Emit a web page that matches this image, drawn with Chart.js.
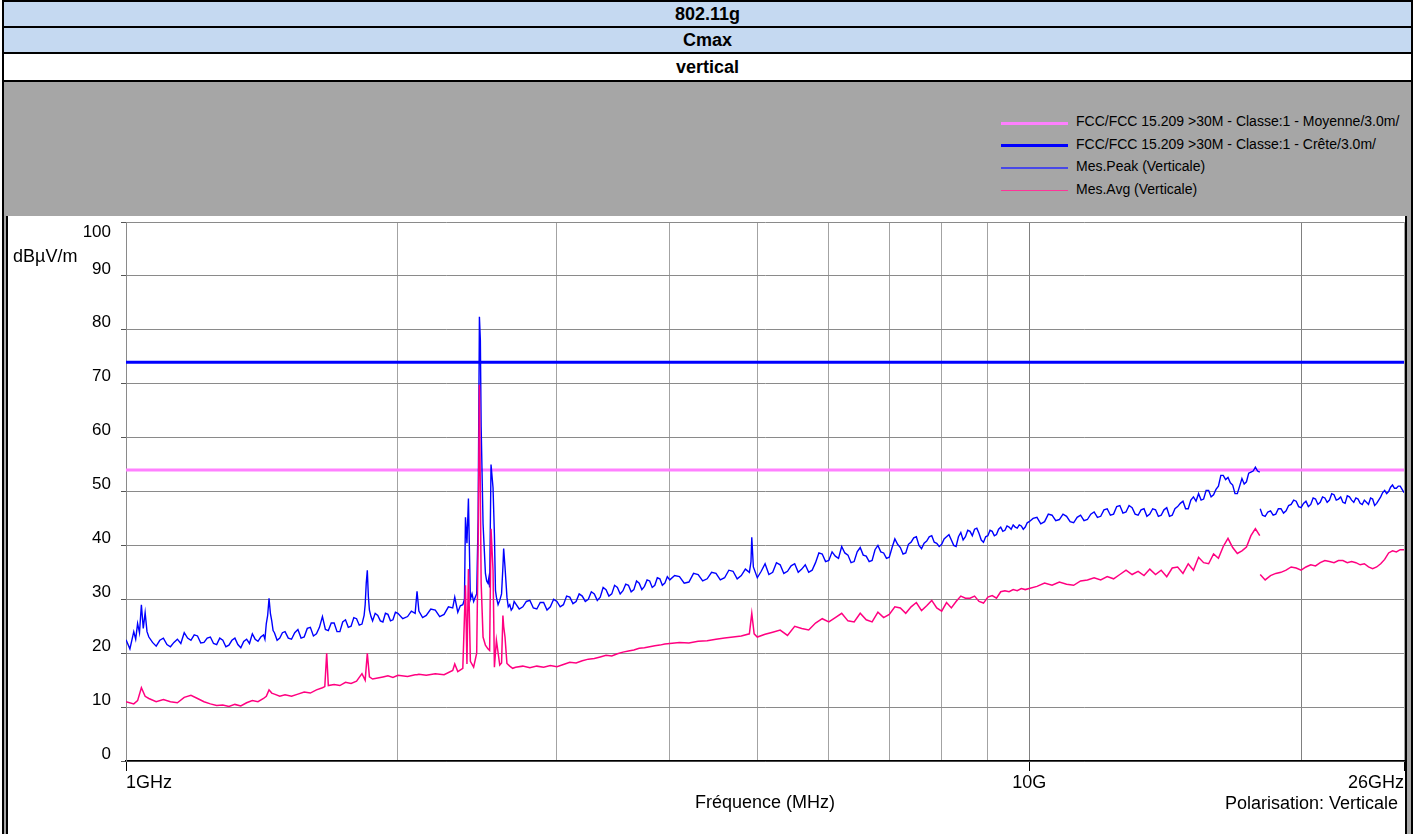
<!DOCTYPE html>
<html>
<head>
<meta charset="utf-8">
<title>802.11g - Cmax - vertical</title>
<script src="https://cdn.jsdelivr.net/npm/chart.js@4.4.0/dist/chart.umd.min.js"></script>
<style>
  body { margin: 0; background: #fff; font-family: "Liberation Sans", Arial, sans-serif; overflow: hidden; }
  #frame { position: absolute; left: 2px; top: 0; width: 1407px; height: 850px; border: 2px solid #000; background: #a6a6a6; }
  .hrow { position: absolute; left: 0; width: 1407px; text-align: center; font-weight: bold; font-size: 18px; border-bottom: 2px solid #000; }
  #row1 { top: 0; height: 24px; line-height: 24px; background: #c5d9f1; }
  #row2 { top: 26px; height: 24px; line-height: 24px; background: #c5d9f1; }
  #row3 { top: 52px; height: 26px; line-height: 26px; background: #fff; }
  #panel { position: absolute; left: 6px; top: 216px; width: 1397px; height: 640px; background: #fff; border-left: 2px solid #000; border-right: 2px solid #000; }
  #legend { position: absolute; left: 1001px; top: 110px; }
  .lg-row { position: absolute; left: 0; height: 22px; white-space: nowrap; }
  .lg-line { position: absolute; left: 0; width: 67px; }
  .lg-text { position: absolute; left: 75px; top: 0; font-size: 14px; line-height: 22px; color: #000; }
  #chartBox { position: absolute; left: 8px; top: 180px; width: 1397px; height: 654px; }
</style>
</head>
<body>
<div id="frame">
  <div class="hrow" id="row1">802.11g</div>
  <div class="hrow" id="row2">Cmax</div>
  <div class="hrow" id="row3">vertical</div>
</div>
<div id="panel"></div>
<div id="legend"></div>
<div id="chartBox"><canvas id="emc"></canvas></div>

<script>
// Limites FCC 15.209 (dBuV/m)
const limitFreq = [1, 26];
const limitAvg = [54, 54];
const limitPeak = [74, 74];

// Axes
const yTicks = [0, 10, 20, 30, 40, 50, 60, 70, 80, 90, 100];
const xTickValues = [1, 2, 3, 4, 5, 6, 7, 8, 9, 10, 20, 26];
const xTickText = ['1GHz', '', '', '', '', '', '', '', '', '10G', '', '26GHz'];

// Mes.Peak (Verticale) : frequences (GHz)
const peakFreq = [
  1.00, 1.01, 1.02, 1.025, 1.03, 1.035, 1.04, 1.045, 1.05, 1.055,
  1.06, 1.07, 1.08, 1.09, 1.10, 1.11, 1.12, 1.13, 1.14, 1.15,
  1.16, 1.17, 1.18, 1.19, 1.20, 1.21, 1.22, 1.23, 1.24, 1.25,
  1.26, 1.27, 1.28, 1.29, 1.30, 1.31, 1.32, 1.33, 1.34, 1.35,
  1.36, 1.37, 1.38, 1.39, 1.40, 1.41, 1.42, 1.425, 1.43, 1.435,
  1.44, 1.445, 1.45, 1.455, 1.46, 1.47, 1.48, 1.49, 1.50,
  1.5125, 1.525, 1.5375, 1.55, 1.5625, 1.575, 1.5875, 1.60, 1.6125, 1.625,
  1.6375, 1.65, 1.6625, 1.675, 1.6875, 1.70, 1.7125, 1.725, 1.7375, 1.75,
  1.7625, 1.775, 1.7875, 1.80, 1.8125, 1.825, 1.835, 1.84, 1.845, 1.85,
  1.855, 1.86, 1.8675, 1.875, 1.8875, 1.90, 1.9125, 1.925, 1.9375, 1.95,
  1.9625, 1.975, 1.9875, 2.00,
  2.025, 2.05, 2.07, 2.09, 2.10, 2.11, 2.13, 2.15, 2.175, 2.20,
  2.225, 2.25, 2.275, 2.30, 2.312, 2.33, 2.345, 2.36, 2.37, 2.376,
  2.385, 2.394, 2.406, 2.416, 2.426, 2.436, 2.445, 2.454, 2.462, 2.468,
  2.473, 2.485, 2.50, 2.508, 2.516, 2.522, 2.527, 2.536, 2.549, 2.558,
  2.565, 2.571, 2.582, 2.593, 2.605, 2.614, 2.619, 2.628, 2.641, 2.65,
  2.66, 2.67, 2.68, 2.69, 2.70,
  2.725, 2.75, 2.775, 2.80, 2.825, 2.85, 2.875, 2.90, 2.925, 2.95,
  2.975, 3.00, 3.025, 3.05, 3.075, 3.10, 3.125, 3.15, 3.175, 3.20,
  3.225, 3.25, 3.275, 3.30, 3.325, 3.35, 3.375, 3.40, 3.425, 3.45,
  3.475, 3.50, 3.525, 3.55, 3.575, 3.60, 3.625, 3.65, 3.675, 3.70,
  3.725, 3.75, 3.775, 3.80, 3.825, 3.85, 3.875, 3.90, 3.925, 3.95,
  3.975, 4.00,
  4.05, 4.10, 4.15, 4.20, 4.25, 4.30, 4.35, 4.40, 4.45, 4.50,
  4.55, 4.60, 4.65, 4.70, 4.75, 4.80, 4.85, 4.90, 4.92, 4.93,
  4.95, 5.00, 5.05, 5.10, 5.15, 5.20, 5.25, 5.30, 5.35, 5.40,
  5.45, 5.50, 5.55, 5.60, 5.65, 5.70, 5.75, 5.80, 5.85, 5.90,
  5.95, 6.00, 6.05, 6.10, 6.15, 6.20, 6.25, 6.30, 6.35, 6.40,
  6.45, 6.50, 6.55, 6.60, 6.65, 6.70, 6.75, 6.80, 6.85, 6.90,
  6.95, 7.00, 7.05, 7.10, 7.15, 7.20, 7.25, 7.30, 7.35, 7.40,
  7.45, 7.50, 7.55, 7.60, 7.65, 7.70, 7.75, 7.80, 7.85, 7.90,
  7.95, 8.00, 8.05, 8.10, 8.15, 8.20, 8.25, 8.30, 8.35, 8.40,
  8.45, 8.50, 8.55, 8.60, 8.65, 8.70, 8.75, 8.80, 8.85, 8.90,
  8.95, 9.00, 9.05, 9.10, 9.15, 9.20, 9.25, 9.30, 9.35, 9.40,
  9.45, 9.50, 9.55, 9.60, 9.65, 9.70, 9.75, 9.80, 9.85, 9.90,
  9.95, 10.00,
  10.1, 10.2, 10.3, 10.4, 10.5, 10.6, 10.7, 10.8, 10.9, 11.0,
  11.1, 11.2, 11.3, 11.4, 11.5, 11.6, 11.7, 11.8, 11.9, 12.0,
  12.1, 12.2, 12.3, 12.4, 12.5, 12.6, 12.7, 12.8, 12.9, 13.0,
  13.1, 13.2, 13.3, 13.4, 13.5, 13.6, 13.7, 13.8, 13.9, 14.0,
  14.1, 14.2, 14.3, 14.4, 14.5, 14.6, 14.7, 14.8, 14.9, 15.0,
  15.1, 15.2, 15.3, 15.4, 15.5, 15.6, 15.7, 15.8, 15.9, 16.0,
  16.1, 16.2, 16.3, 16.4, 16.5, 16.6, 16.7, 16.8, 16.9, 17.0,
  17.1, 17.2, 17.3, 17.4, 17.5, 17.6, 17.7, 17.8, 17.9, 18.0,
  18.01,
  18.02, 18.125, 18.25, 18.375, 18.5, 18.625, 18.75, 18.875, 19.0, 19.125,
  19.25, 19.375, 19.5, 19.625, 19.75, 19.875, 20.0, 20.125, 20.25, 20.375,
  20.5, 20.625, 20.75, 20.875, 21.0, 21.125, 21.25, 21.375, 21.5, 21.625,
  21.75, 21.875, 22.0, 22.125, 22.25, 22.375, 22.5, 22.625, 22.75, 22.875,
  23.0, 23.125, 23.25, 23.375, 23.5, 23.625, 23.75, 23.875, 24.0, 24.125,
  24.25, 24.375, 24.5, 24.625, 24.75, 24.875, 25.0, 25.125, 25.25, 25.375,
  25.5, 25.625, 25.75, 25.875, 26.0
];

// Mes.Peak (Verticale) : niveaux (dBuV/m)
const peakVals = [
  22.5, 20.8, 24.0, 22.6, 25.5, 23.8, 29.0, 24.6, 27.5, 24.0,
  23.0, 22.0, 21.3, 22.4, 22.8, 21.6, 21.2, 22.0, 22.6, 21.8,
  23.8, 22.8, 22.4, 23.4, 23.2, 21.9, 22.0, 22.8, 23.0, 21.8,
  21.6, 22.8, 22.4, 21.2, 21.5, 22.4, 22.8, 21.6, 21.0, 22.2,
  22.6, 21.8, 23.6, 22.6, 22.2, 23.0, 23.4, 22.6, 25.5, 27.0,
  30.2, 27.4, 26.0, 24.2, 23.8, 22.4, 22.8, 23.8, 24.0,
  22.8, 22.6, 23.8, 24.4, 22.8, 23.0, 24.6, 24.8, 23.2, 23.6,
  24.8, 26.8, 24.4, 24.2, 25.6, 25.6, 24.0, 24.0, 25.8, 26.2,
  24.8, 25.0, 26.6, 26.4, 25.2, 25.4, 27.0, 29.0, 33.0, 35.4,
  30.5, 28.0, 26.8, 26.0, 27.4, 27.0, 26.0, 25.8, 27.4, 27.2,
  26.0, 26.2, 27.6, 27.4,
  26.4, 26.8, 27.8, 27.4, 31.5, 27.8, 26.6, 27.0, 28.2, 28.0,
  26.8, 27.2, 28.6, 28.4, 30.4, 27.6, 28.8, 29.0, 30.0, 45.2,
  40.4, 48.7, 30.0, 31.0, 29.6, 30.4, 31.0, 45.0, 82.4, 78.0,
  62.0, 44.0, 34.8, 33.4, 33.0, 34.0, 32.2, 55.0, 50.7, 42.0,
  31.6, 30.4, 29.0, 29.8, 31.0, 36.0, 39.4, 36.0, 30.4, 28.6,
  29.0, 28.0, 28.4, 29.6, 29.2,
  28.2, 28.6, 29.6, 29.8, 28.4, 28.2, 29.4, 29.4, 28.0, 28.6,
  30.0, 29.6, 28.6, 29.0, 30.6, 30.4, 29.2, 29.6, 31.0, 30.6,
  29.6, 30.0, 31.4, 31.0, 29.8, 30.4, 32.2, 31.8, 30.6, 31.0,
  32.6, 32.2, 31.0, 31.6, 32.8, 32.6, 31.4, 31.8, 33.4, 33.0,
  31.8, 32.4, 33.6, 33.4, 32.2, 32.6, 34.0, 33.8, 32.6, 33.0,
  34.2, 33.6,
  34.4, 34.2, 33.0, 33.2, 34.8, 34.6, 33.4, 33.8, 35.0, 34.8,
  33.6, 34.0, 35.4, 35.2, 33.8, 34.4, 35.6, 35.0, 37.0, 41.5,
  36.0, 34.0, 35.2, 36.6, 34.6, 35.0, 36.8, 36.4, 34.8, 35.2,
  36.2, 36.6, 35.0, 35.6, 36.4, 35.0, 35.4, 36.8, 38.6, 38.4,
  37.0, 37.2, 38.8, 38.0, 37.6, 39.8, 38.6, 38.2, 36.8, 37.0,
  38.8, 39.6, 38.2, 38.0, 37.0, 37.2, 39.2, 40.0, 38.8, 38.6,
  37.6, 37.8, 39.6, 41.2, 40.2, 39.6, 38.4, 38.6, 40.2, 40.6,
  41.4, 41.6, 40.0, 39.4, 40.4, 40.8, 41.6, 41.8, 40.6, 40.4,
  39.8, 40.2, 41.2, 41.6, 42.0, 41.0, 40.0, 39.8, 41.6, 42.4,
  41.0, 41.6, 42.8, 42.6, 41.8, 43.0, 43.2, 42.2, 41.0, 40.6,
  41.6, 41.8, 42.8, 42.6, 41.8, 42.0, 43.0, 43.4, 42.6, 42.8,
  43.6, 43.4, 43.0, 43.8, 43.4, 43.2, 43.8, 43.6, 43.0, 43.4,
  44.2, 44.4,
  45.0, 45.2, 44.0, 44.4, 45.8, 45.6, 44.6, 44.8, 45.8, 45.4,
  44.4, 44.2, 45.2, 45.6, 44.6, 44.8, 45.8, 46.2, 45.2, 45.4,
  46.6, 46.8, 45.6, 45.8, 47.2, 47.4, 46.0, 46.2, 47.4, 47.0,
  45.8, 45.6, 46.6, 46.8, 45.4, 45.8, 46.8, 46.6, 45.4, 45.6,
  46.6, 47.0, 45.4, 45.6, 46.8, 47.2, 47.8, 48.2, 46.8, 46.8,
  48.4, 49.0, 48.2, 49.6, 48.4, 48.6, 50.2, 50.2, 49.0, 49.4,
  50.4, 51.0, 53.0, 53.0, 52.2, 52.6, 51.6, 51.2, 49.6, 49.6,
  51.0, 52.4, 51.4, 51.8, 53.4, 53.6, 53.8, 54.5, 53.8, 53.6,
  null,
  46.8, 45.6, 45.4, 46.2, 46.4, 45.6, 45.8, 46.8, 46.8, 46.0,
  46.4, 47.4, 47.6, 48.4, 48.2, 47.2, 47.0, 47.8, 48.2, 47.2,
  47.6, 48.8, 48.6, 47.6, 48.0, 49.0, 48.8, 48.0, 48.4, 49.6,
  49.4, 48.4, 48.6, 49.0, 48.0, 47.8, 49.2, 49.0, 48.4, 48.0,
  48.8, 48.6, 47.8, 47.6, 48.4, 48.0, 47.6, 48.8, 48.6, 47.4,
  47.8, 48.4, 49.0, 49.8, 50.2, 49.6, 50.0, 50.8, 51.2, 50.6,
  50.6, 51.0, 51.0, 50.4, 49.8
];

// Mes.Avg (Verticale) : frequences (GHz)
const avgFreq = [
  1.00, 1.02, 1.03, 1.04, 1.05, 1.06, 1.08, 1.10, 1.12, 1.14, 1.16, 1.18, 1.20, 1.22, 1.24, 1.26, 1.28, 1.30, 1.32, 1.34, 1.36, 1.38, 1.40, 1.42, 1.43, 1.44, 1.45, 1.46, 1.48, 1.50,
  1.525, 1.55, 1.575, 1.60, 1.625, 1.65, 1.66, 1.668, 1.675, 1.70, 1.725, 1.75, 1.775, 1.80, 1.825, 1.84, 1.85, 1.86, 1.875, 1.90, 1.925, 1.95, 1.975, 2.00,
  2.05, 2.09, 2.10, 2.11, 2.15, 2.20, 2.25, 2.30, 2.312, 2.33, 2.36, 2.376, 2.385, 2.394, 2.406, 2.426, 2.445, 2.454, 2.462, 2.473, 2.485, 2.50, 2.516, 2.527, 2.536, 2.549, 2.558, 2.571, 2.593, 2.605, 2.614, 2.619, 2.628, 2.641, 2.66, 2.68, 2.70,
  2.75, 2.8, 2.85, 2.9, 2.95, 3.0, 3.05, 3.1, 3.15, 3.2, 3.25, 3.3, 3.35, 3.4, 3.45, 3.5, 3.55, 3.6, 3.65, 3.7, 3.75, 3.8, 3.85, 3.9, 3.95, 4.0,
  4.1, 4.2, 4.3, 4.4, 4.5, 4.6, 4.7, 4.8, 4.9, 4.93, 4.96,
  5.0, 5.1, 5.2, 5.3, 5.4, 5.5, 5.6, 5.7, 5.8, 5.9, 6.0, 6.1, 6.2, 6.3, 6.4, 6.5, 6.6, 6.7, 6.8, 6.9,
  7.0, 7.1, 7.2, 7.3, 7.4, 7.5, 7.6, 7.7, 7.8, 7.9, 8.0, 8.1, 8.2, 8.3, 8.4, 8.5, 8.6, 8.7, 8.8, 8.9,
  9.0, 9.1, 9.2, 9.3, 9.4, 9.5, 9.6, 9.7, 9.8, 9.9, 10.0,
  10.2, 10.4, 10.6, 10.8, 11.0, 11.2, 11.4, 11.6, 11.8, 12.0, 12.2, 12.4, 12.6, 12.8, 13.0, 13.2, 13.4, 13.6, 13.8, 14.0,
  14.2, 14.4, 14.6, 14.8, 15.0, 15.2, 15.4, 15.6, 15.8, 16.0, 16.2, 16.4, 16.6, 16.8, 17.0, 17.2, 17.4, 17.6, 17.8, 18.0,
  18.01,
  18.02, 18.25, 18.5, 18.75, 19.0, 19.25, 19.5, 19.75, 20.0, 20.25, 20.5, 20.75, 21.0, 21.25, 21.5, 21.75, 22.0,
  22.25, 22.5, 22.75, 23.0, 23.25, 23.5, 23.75, 24.0, 24.25, 24.5, 24.75, 25.0, 25.25, 25.5, 25.75, 26.0
];

// Mes.Avg (Verticale) : niveaux (dBuV/m)
const avgVals = [
  11.0, 10.6, 11.2, 13.6, 12.0, 11.6, 11.0, 11.4, 11.0, 10.8, 11.8, 12.2, 11.6, 11.0, 10.6, 10.3, 10.4, 10.1, 10.5, 10.2, 10.8, 11.2, 11.0, 11.6, 12.0, 13.2, 12.6, 12.4, 12.0, 12.3,
  12.0, 12.4, 12.8, 12.6, 13.2, 13.6, 13.8, 20.0, 14.0, 14.2, 14.0, 14.6, 14.4, 14.8, 16.2, 15.0, 20.0, 15.6, 15.2, 15.4, 15.6, 15.8, 15.5, 15.9,
  15.7, 16.0, 16.0, 16.1, 15.9, 16.2, 16.0, 16.8, 18.0, 16.6, 17.2, 32.6, 18.0, 35.6, 18.5, 17.4, 20.0, 40.0, 69.8, 33.0, 23.0, 21.5, 20.8, 20.5, 43.1, 35.4, 17.4, 22.4, 17.8, 18.2, 27.0, 25.0, 23.0, 18.1, 17.6, 17.2, 17.4,
  17.6, 17.3, 17.6, 17.4, 17.7, 17.5, 17.9, 18.3, 18.2, 18.6, 18.9, 19.0, 19.3, 19.6, 19.5, 19.9, 20.2, 20.4, 20.6, 20.9, 21.0, 21.2, 21.4, 21.5, 21.7, 21.8,
  22.0, 21.9, 22.2, 22.3, 22.6, 22.8, 23.0, 23.2, 23.6, 27.4, 23.6,
  23.0, 23.5, 23.9, 24.3, 23.3, 25.0, 24.6, 24.3, 25.6, 26.4, 25.8, 26.6, 27.4, 26.0, 25.8, 27.4, 26.2, 25.8, 27.6, 26.6,
  27.2, 28.6, 28.4, 27.4, 28.6, 29.4, 27.9, 28.8, 29.8, 28.4, 27.8, 29.4, 28.4, 29.6, 30.6, 30.2, 30.2, 30.6, 29.6, 29.3,
  30.4, 30.7, 30.2, 31.4, 31.6, 31.4, 31.8, 31.6, 32.0, 31.8, 32.0,
  32.4, 33.0, 32.6, 33.2, 32.8, 32.6, 33.4, 33.6, 34.0, 33.6, 34.2, 33.8, 34.6, 35.4, 34.6, 35.2, 34.4, 35.6, 34.6, 35.4,
  34.2, 35.8, 36.0, 34.8, 36.6, 35.4, 37.8, 36.8, 36.6, 38.4, 37.6, 39.8, 41.3, 39.6, 38.5, 39.0, 39.7, 41.8, 43.1, 41.8,
  null,
  34.6, 33.6, 34.4, 34.8, 35.0, 35.4, 36.0, 35.8, 35.4, 36.0, 36.4, 36.2, 36.8, 37.2, 37.0, 36.8, 37.2,
  37.2, 36.8, 37.0, 36.8, 36.4, 36.6, 36.0, 35.7, 36.0, 36.6, 37.4, 38.6, 39.0, 38.8, 39.2, 39.2
];

const seriesNames = [
  'FCC/FCC 15.209 >30M - Classe:1 - Moyenne/3.0m/',
  'FCC/FCC 15.209 >30M - Classe:1 - Crête/3.0m/',
  'Mes.Peak (Verticale)',
  'Mes.Avg (Verticale)'
];
const seriesColors = ['#ff80ff', '#0000ff', '#0000ff', '#ff0080'];

document.addEventListener('DOMContentLoaded', function() {
    // Legende dans la zone grise
    const legend = document.getElementById('legend');
    const legendWidths = [3, 3, 1.5, 1.5];
    const legendColors = ['#ff80ff', '#0000ff', '#4848e8', '#ff3399'];
    seriesNames.forEach((name, i) => {
        const row = document.createElement('div');
        row.className = 'lg-row';
        row.style.top = (i * 22.5) + 'px';
        row.innerHTML = '<div class="lg-line" style="top:' + (13 - legendWidths[i] / 2) + 'px;height:' + legendWidths[i] + 'px;background:' + legendColors[i] + '"></div>' +
            '<div class="lg-text"></div>';
        row.querySelector('.lg-text').textContent = name;
        legend.appendChild(row);
    });

    const toPoints = (xs, ys) => xs.map((x, i) => ({ x: x, y: ys[i] }));

    // Textes fixes: unite, "100", polarisation
    const extraText = {
        id: 'extraText',
        afterDraw(chart) {
            const ctx = chart.ctx;
            const yScale = chart.scales.y;
            ctx.save();
            ctx.fillStyle = '#000';
            ctx.textBaseline = 'middle';
            ctx.font = '18px "Liberation Sans", Arial, sans-serif';
            ctx.textAlign = 'left';
            ctx.fillText('dBµV/m', 5, 77);
            ctx.textAlign = 'right';
            ctx.fillText('Polarisation: Verticale', chart.chartArea.right - 6, 624);
            ctx.font = '17px "Liberation Sans", Arial, sans-serif';
            ctx.fillText('100', yScale.right - 15, yScale.getPixelForValue(100) + 10);
            ctx.restore();
        }
    };

    Chart.defaults.font.family = '"Liberation Sans", Arial, sans-serif';
    Chart.defaults.color = '#000';

    new Chart(document.getElementById('emc'), {
        type: 'line',
        data: {
            datasets: [
                {
                    label: seriesNames[3],
                    data: toPoints(avgFreq, avgVals),
                    borderColor: seriesColors[3],
                    borderWidth: 1.5,
                    pointRadius: 0,
                    spanGaps: false,
                    order: 0
                },
                {
                    label: seriesNames[2],
                    data: toPoints(peakFreq, peakVals),
                    borderColor: seriesColors[2],
                    borderWidth: 1.4,
                    pointRadius: 0,
                    spanGaps: false,
                    order: 1
                },
                {
                    label: seriesNames[0],
                    data: toPoints(limitFreq, limitAvg),
                    borderColor: seriesColors[0],
                    borderWidth: 3,
                    pointRadius: 0,
                    order: 2
                },
                {
                    label: seriesNames[1],
                    data: toPoints(limitFreq, limitPeak),
                    borderColor: seriesColors[1],
                    borderWidth: 3,
                    pointRadius: 0,
                    order: 2
                }
            ]
        },
        options: {
            responsive: false,
            maintainAspectRatio: false,
            animation: false,
            events: [],
            layout: { padding: { top: 42, left: 0, right: 0, bottom: 0 } },
            plugins: {
                legend: { display: false },
                tooltip: { enabled: false }
            },
            scales: {
                x: {
                    type: 'logarithmic',
                    min: 1,
                    max: 26,
                    afterBuildTicks: (scale) => {
                        scale.ticks = xTickValues.map(v => ({ value: v }));
                    },
                    afterFit: (scale) => { scale.height = 73; },
                    ticks: {
                        autoSkip: false,
                        maxRotation: 0,
                        align: 'inner',
                        padding: 1,
                        font: { size: 18 },
                        callback: (value, index) => xTickText[index]
                    },
                    grid: {
                        color: (ctx) => (ctx.tick && (ctx.tick.value === 10 || ctx.tick.value === 20)) ? '#808080' : '#a3a3a3',
                        tickColor: (ctx) => (ctx.tick && xTickText[ctx.index]) ? '#000' : 'rgba(0,0,0,0)',
                        tickLength: 10,
                        lineWidth: 1
                    },
                    border: { color: '#000', width: 1.5 },
                    title: {
                        display: true,
                        text: 'Fréquence (MHz)',
                        font: { size: 18 },
                        padding: { top: 0, bottom: 20 }
                    }
                },
                y: {
                    min: 0,
                    max: 100,
                    afterBuildTicks: (scale) => {
                        scale.ticks = yTicks.map(v => ({ value: v }));
                    },
                    afterFit: (scale) => { scale.width = 118; },
                    ticks: {
                        padding: 10,
                        labelOffset: -7,
                        font: { size: 17 },
                        callback: (value) => value === 100 ? '' : String(value)
                    },
                    grid: {
                        color: '#8a8a8a',
                        tickColor: '#555',
                        tickLength: 5,
                        lineWidth: 1
                    },
                    border: { color: '#8a8a8a', width: 1 }
                }
            }
        },
        plugins: [extraText]
    });
});
</script>
<script>
  // taille du canvas fixe
  const cv = document.getElementById('emc');
  cv.width = 1397; cv.height = 654;
  cv.style.width = '1397px'; cv.style.height = '654px';
</script>
</body>
</html>
